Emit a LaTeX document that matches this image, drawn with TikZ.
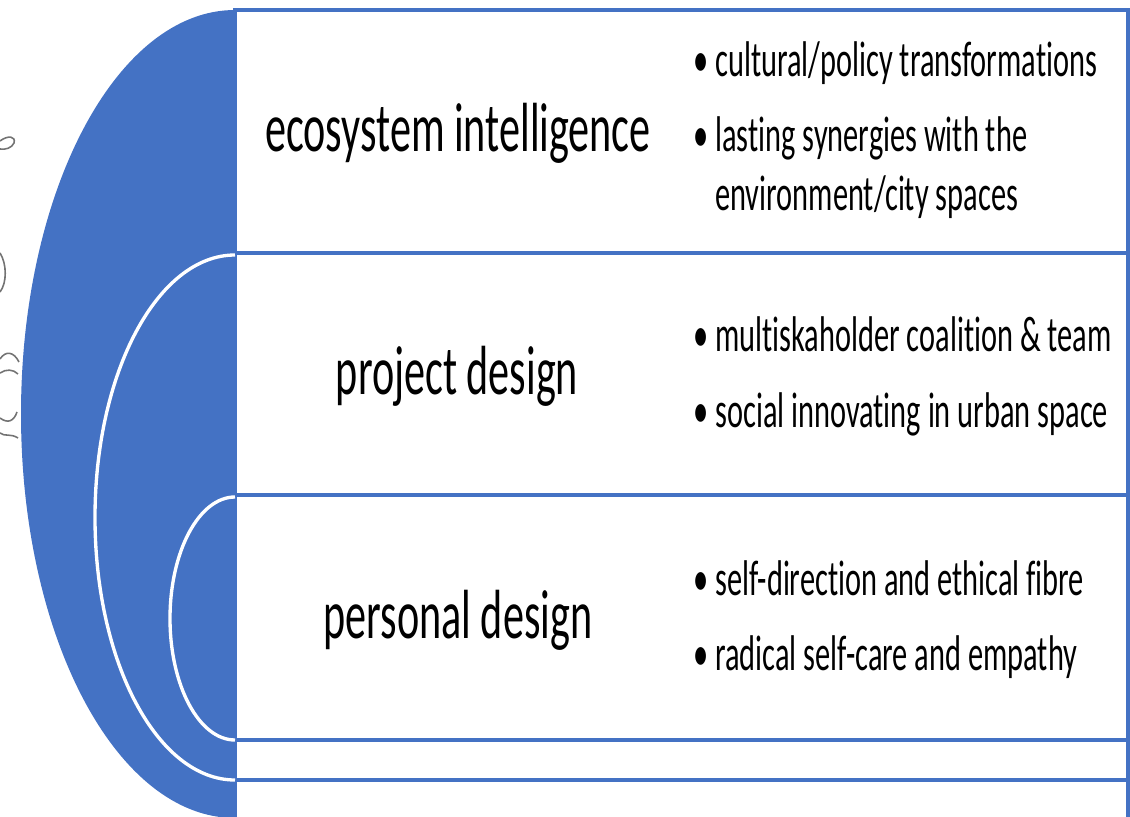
\documentclass[tikz,border=0pt]{standalone}
\usepackage{fontspec}
\setmainfont{Carlito}[Ligatures=CommonOff]
\usepackage{graphicx}
\definecolor{officeblue}{HTML}{4472C4}
\newcommand{\tall}[1]{\scalebox{1}[1.65]{#1}}
\newcommand{\bul}{\makebox[12.5pt][l]{\textbullet}}

\begin{document}
\begin{tikzpicture}[x=0.02cm, y=0.02cm,
		heading/.style={anchor=base, inner sep=0pt, font=\fontsize{24}{29}\selectfont},
		point/.style={anchor=base west, inner sep=0pt, font=\fontsize{17.3}{20.2}\selectfont},
		band/.style={draw=officeblue, line width=2.2pt, fill=white},
		ring/.style={draw=white, line width=1.9pt},
		sketch/.style={draw=black!55, line width=0.9pt}]
	\useasboundingbox (0,0) rectangle (1130,816);
	\clip (0,0) rectangle (1130,816);
	% rows
	\draw[band] (235,806) rectangle (1128,563);
	\draw[band] (235,563) rectangle (1128,321);
	\draw[band] (235,321) rectangle (1128,76);
	\draw[band] (235,76) rectangle (1128,36);
	\draw[band] (235,36) rectangle (1128,-20);
	% half disc and inner arcs
	\fill[officeblue] (235,806) arc[start angle=90, end angle=270, x radius=214, y radius=404] -- cycle;
	\draw[ring] (235,561) arc[start angle=90, end angle=270, x radius=140, y radius=262.5];
	\draw[ring] (235,319) arc[start angle=90, end angle=270, x radius=65, y radius=121.5];
	% pencil marks at the edge
	\draw[sketch] (0,675) .. controls (8,681) and (16,680) .. (14,673) .. controls (12,668) and (5,666) .. (0,667);
	\draw[sketch] (0,563) .. controls (7,552) and (7,533) .. (0,524);
	\draw[sketch] (0,457) .. controls (6,466) and (14,464) .. (19,454);
	\draw[sketch] (0,443) .. controls (6,447) and (13,447) .. (18,442);
	\draw[sketch] (0,398) .. controls (8,392) and (14,395) .. (17,404);
	\draw[sketch] (0,383) .. controls (5,379) and (10,383) .. (18,378);
	% headings
	\node[heading] (eco) at (458,664) {\tall{ecosystem intelligence}};
	\node[heading] (proj) at (457,421) {\tall{project design}};
	\node[heading] (pers) at (458,178) {\tall{personal design}};
	% bullet points
	\node[point] (eco1) at (693,739) {\tall{\bul cultural/policy transformations}};
	\node[point] (eco2) at (693,664) {\tall{\begin{tabular}[t]{@{}l@{}}\bul lasting synergies with the\\\hspace*{12.5pt}environment/city spaces\end{tabular}}};
	\node[point] (proj1) at (693,464) {\tall{\bul multiskaholder coalition \& team}};
	\node[point] (proj2) at (693,389) {\tall{\bul social innovating in urban space}};
	\node[point] (pers1) at (693,221) {\tall{\bul self-direction and ethical fibre}};
	\node[point] (pers2) at (693,146) {\tall{\bul radical self-care and empathy}};
\end{tikzpicture}
\end{document}
